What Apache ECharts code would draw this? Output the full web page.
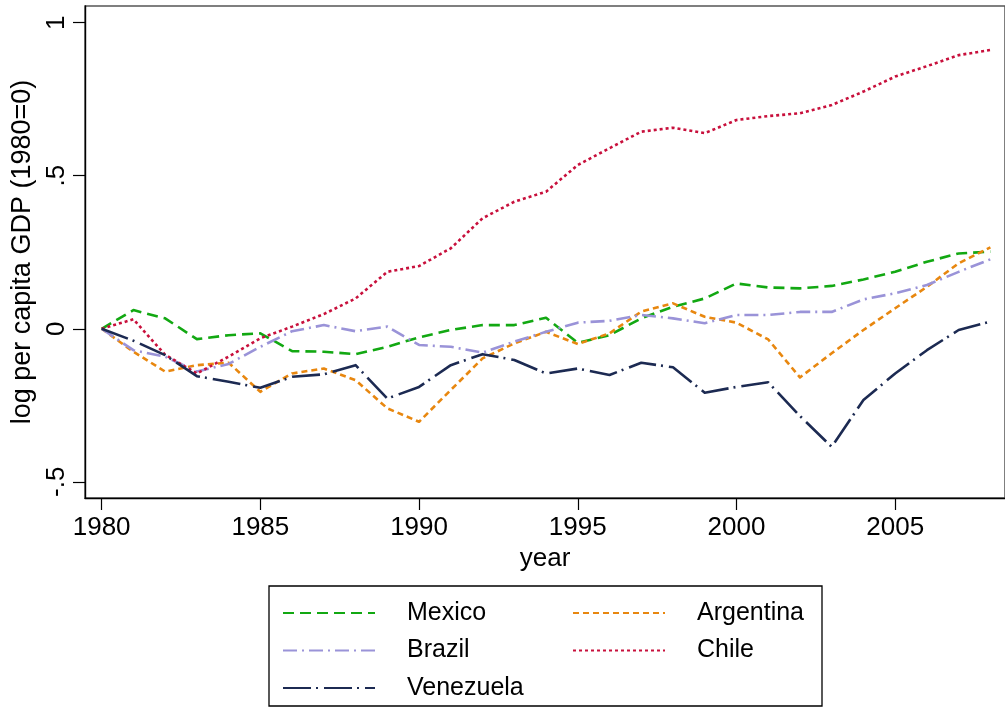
<!DOCTYPE html>
<html><head><meta charset="utf-8">
<script src="https://cdn.jsdelivr.net/npm/echarts@6/dist/echarts.min.js"></script>
<style>html,body{margin:0;padding:0;background:#fff}#c{width:1005px;height:711px}</style>
</head><body><div id="c"></div>
<script>
const years = [1980,1981,1982,1983,1984,1985,1986,1987,1988,1989,1990,1991,1992,1993,1994,1995,1996,1997,1998,1999,2000,2001,2002,2003,2004,2005,2006,2007,2008];
const mexico    = [0,0.061,0.034,-0.034,-0.021,-0.015,-0.073,-0.075,-0.083,-0.059,-0.028,-0.004,0.012,0.012,0.036,-0.046,-0.021,0.034,0.072,0.099,0.148,0.135,0.132,0.14,0.161,0.186,0.219,0.246,0.252];
const argentina = [0,-0.075,-0.14,-0.119,-0.111,-0.206,-0.146,-0.13,-0.168,-0.26,-0.304,-0.2,-0.097,-0.048,-0.01,-0.05,-0.015,0.056,0.083,0.039,0.02,-0.035,-0.159,-0.08,-0.004,0.067,0.137,0.214,0.266];
const brazil    = [0,-0.07,-0.091,-0.14,-0.115,-0.059,-0.008,0.012,-0.008,0.007,-0.053,-0.059,-0.078,-0.042,-0.01,0.02,0.026,0.045,0.034,0.018,0.045,0.045,0.055,0.055,0.096,0.116,0.143,0.186,0.227];
const chile     = [0,0.031,-0.085,-0.146,-0.091,-0.031,0.007,0.048,0.099,0.186,0.205,0.263,0.361,0.415,0.448,0.535,0.59,0.644,0.657,0.639,0.682,0.695,0.704,0.731,0.775,0.824,0.858,0.894,0.911];
const venezuela = [0,-0.039,-0.086,-0.155,-0.173,-0.193,-0.157,-0.149,-0.119,-0.228,-0.19,-0.119,-0.083,-0.102,-0.146,-0.13,-0.151,-0.111,-0.126,-0.209,-0.19,-0.175,-0.285,-0.386,-0.233,-0.146,-0.07,-0.004,0.023];
const xTicks = [1980,1985,1990,1995,2000,2005];
const yTicks = [-0.5,0,0.5,1];
const yTickLabels = ['-.5','0','.5','1'];

const FONT = '"Liberation Sans", Arial, sans-serif';
const pairs = arr => years.map((y,i)=>[y,arr[i]]);
const mk = (name, arr, color, dash) => ({
  name, type:'line', data: pairs(arr), symbol:'none', showSymbol:false, legendIcon:'none',
  lineStyle:{color, width:2.6, type:dash, cap:'butt', join:'round'},
  itemStyle:{color}, animation:false
});
const legendCommon = {orient:'vertical',top:595,itemWidth:92,itemHeight:14,itemGap:11.5,
  itemStyle:{opacity:0,borderWidth:0},
  textStyle:{fontSize:25,color:'#000',fontFamily:FONT,lineHeight:26,padding:[0,0,0,27]},selectedMode:false};

const chart = echarts.init(document.getElementById('c'), null, {renderer:'canvas'});
chart.setOption({
  backgroundColor:'#fff',
  animation:false,
  grid:{left:85,right:-1,top:6,bottom:213,show:true,borderColor:'#555',borderWidth:1.5,backgroundColor:'transparent'},
  xAxis:{type:'value',min:1979.475,max:2008.46,
    axisLine:{show:true,onZero:false,lineStyle:{color:'#000',width:1.4}},
    axisTick:{show:true,customValues:xTicks,length:12,lineStyle:{color:'#000',width:1.2}},
    axisLabel:{customValues:xTicks,fontSize:26,color:'#000',margin:17,fontFamily:FONT,formatter:v=>String(v)},
    splitLine:{show:false},
    name:'year',nameLocation:'middle',nameGap:46,nameTextStyle:{fontSize:26,color:'#000',fontFamily:FONT}},
  yAxis:{type:'value',min:-0.553,max:1.0546,
    axisLine:{show:true,onZero:false,lineStyle:{color:'#000',width:1.4}},
    axisTick:{show:true,customValues:yTicks,length:12,lineStyle:{color:'#000',width:1.2}},
    axisLabel:{customValues:yTicks,rotate:90,fontSize:26,color:'#000',margin:15,fontFamily:FONT,
      formatter:v=>{const i=yTicks.findIndex(t=>Math.abs(t-v)<1e-9);return i>=0?yTickLabels[i]:'';}},
    splitLine:{show:false},
    name:'log per capita GDP (1980=0)',nameLocation:'middle',nameGap:43,
    nameTextStyle:{fontSize:27,color:'#000',fontFamily:FONT}},
  legend:[
    Object.assign({data:['Mexico','Brazil','Venezuela'],left:277},legendCommon),
    Object.assign({data:['Argentina','Chile'],left:567},legendCommon)
  ],
  graphic:[{type:'rect',shape:{x:269,y:586,width:553,height:120},style:{fill:'none',stroke:'#000',lineWidth:1.3},silent:true}],
  series:[
    mk('Mexico',mexico,'#12a812',[11,6]),
    mk('Argentina',argentina,'#e8870f',[6,4]),
    mk('Brazil',brazil,'#9a93d8',[14,5,2,5]),
    mk('Chile',chile,'#c8103c',[3,3]),
    mk('Venezuela',venezuela,'#1c2a52',[28,5,2,6])
  ]
});
</script></body></html>
